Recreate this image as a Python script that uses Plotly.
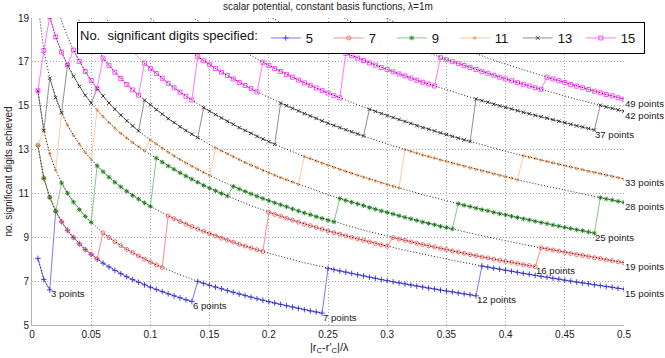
import plotly.graph_objects as go

STEP = 0.005  # sampling step of |rC-r'C|/lambda

# ---- achieved digits for each quadrature rule ----
# (first x, last x, values every 0.005)
n3 = (0.005, 0.015, [8.04, 7.08, 6.60])
n6 = (0.005, 0.135, [13.19, 11.69, 10.82, 10.19, 9.71, 9.32, 8.99, 8.70, 8.44, 8.22, 8.01, 7.82, 7.65, 7.49,
                     7.34, 7.20, 7.07, 6.95, 6.83, 6.72, 6.62, 6.52, 6.42, 6.33, 6.24, 6.15, 6.07])
n7 = (0.005, 0.245, [15.68, 13.87, 12.81, 12.06, 11.48, 11.01, 10.61, 10.26, 9.95, 9.68, 9.43, 9.20, 8.99, 8.80,
                     8.62, 8.45, 8.30, 8.15, 8.00, 7.87, 7.74, 7.62, 7.50, 7.40, 7.29, 7.19, 7.09, 6.99, 6.90,
                     6.81, 6.73, 6.65, 6.57, 6.49, 6.41, 6.34, 6.27, 6.20, 6.13, 6.06, 6.00, 5.94, 5.88, 5.82,
                     5.76, 5.70, 5.64, 5.59, 5.54])
n12 = (0.005, 0.375, [19.65, 17.51, 16.26, 15.37, 14.68, 14.12, 13.65, 13.24, 12.87, 12.55, 12.26, 11.99, 11.74,
                      11.51, 11.30, 11.10, 10.91, 10.74, 10.57, 10.41, 10.26, 10.12, 9.98, 9.85, 9.72, 9.60, 9.49,
                      9.37, 9.27, 9.16, 9.06, 8.96, 8.87, 8.78, 8.68, 8.60, 8.51, 8.43, 8.35, 8.27, 8.20, 8.12,
                      8.05, 7.98, 7.91, 7.84, 7.78, 7.71, 7.65, 7.58, 7.52, 7.46, 7.41, 7.35, 7.29, 7.24, 7.18,
                      7.13, 7.07, 7.02, 6.97, 6.92, 6.87, 6.82, 6.77, 6.73, 6.68, 6.64, 6.59, 6.55, 6.51, 6.46,
                      6.42, 6.38, 6.33])
n15 = (0.010, 0.500, [20.34, 19.06, 18.14, 17.44, 16.86, 16.34, 15.88, 15.48, 15.12, 14.80, 14.50, 14.23, 13.98,
                      13.74, 13.52, 13.32, 13.13, 12.94, 12.77, 12.61, 12.43, 12.25, 12.10, 11.94, 11.79, 11.65,
                      11.51, 11.37, 11.24, 11.12, 11.00, 10.88, 10.77, 10.65, 10.55, 10.44, 10.34, 10.24, 10.14,
                      10.04, 9.96, 9.87, 9.78, 9.69, 9.60, 9.53, 9.45, 9.37, 9.29, 9.21, 9.14, 9.07, 9.00, 8.93,
                      8.86, 8.79, 8.72, 8.65, 8.59, 8.53, 8.47, 8.41, 8.35, 8.28, 8.22, 8.17, 8.12, 8.06, 8.00,
                      7.95, 7.90, 7.84, 7.79, 7.74, 7.69, 7.64, 7.59, 7.54, 7.49, 7.45, 7.40, 7.35, 7.31, 7.26,
                      7.22, 7.18, 7.13, 7.09, 7.04, 7.00, 6.96, 6.92, 6.88, 6.83, 6.80, 6.75, 6.72, 6.67, 6.64])
n16 = (0.015, 0.425, [20.86, 19.73, 18.86, 18.15, 17.54, 17.02, 16.56, 16.15, 15.78, 15.44, 15.12, 14.84, 14.57,
                      14.31, 14.08, 13.85, 13.64, 13.44, 13.25, 13.06, 12.88, 12.71, 12.55, 12.39, 12.24, 12.10,
                      11.96, 11.82, 11.69, 11.56, 11.44, 11.32, 11.20, 11.09, 10.98, 10.87, 10.77, 10.67, 10.57,
                      10.48, 10.39, 10.29, 10.20, 10.11, 10.03, 9.94, 9.86, 9.78, 9.70, 9.62, 9.55, 9.48, 9.40,
                      9.33, 9.25, 9.19, 9.12, 9.05, 8.99, 8.92, 8.86, 8.79, 8.73, 8.67, 8.61, 8.56, 8.49, 8.44,
                      8.38, 8.33, 8.27, 8.21, 8.16, 8.10, 8.06, 8.00, 7.95, 7.90, 7.86, 7.80, 7.75, 7.71, 7.66])
n19 = (0.025, 0.500, [20.82, 20.06, 19.42, 18.86, 18.37, 17.93, 17.54, 17.17, 16.84, 16.53, 16.24, 15.97, 15.72,
                      15.48, 15.25, 15.04, 14.82, 14.62, 14.41, 14.23, 14.04, 13.87, 13.70, 13.54, 13.38, 13.23,
                      13.08, 12.94, 12.81, 12.67, 12.54, 12.41, 12.29, 12.17, 12.05, 11.94, 11.83, 11.72, 11.62,
                      11.52, 11.41, 11.31, 11.22, 11.13, 11.03, 10.94, 10.85, 10.77, 10.68, 10.60, 10.52, 10.44,
                      10.35, 10.28, 10.20, 10.13, 10.06, 9.98, 9.91, 9.84, 9.77, 9.69, 9.63, 9.57, 9.50, 9.44,
                      9.38, 9.31, 9.25, 9.19, 9.13, 9.07, 9.01, 8.95, 8.89, 8.84, 8.79, 8.73, 8.68, 8.62, 8.57,
                      8.52, 8.47, 8.42, 8.37, 8.31, 8.26, 8.21, 8.17, 8.12, 8.07, 8.03, 7.97, 7.93, 7.88, 7.84])
n25 = (0.045, 0.475, [20.55, 20.04, 19.59, 19.16, 18.78, 18.42, 18.09, 17.78, 17.49, 17.21, 16.94, 16.70, 16.47,
                      16.25, 16.02, 15.82, 15.62, 15.43, 15.26, 15.08, 14.91, 14.75, 14.59, 14.44, 14.29, 14.15,
                      14.00, 13.87, 13.74, 13.60, 13.48, 13.36, 13.24, 13.13, 13.02, 12.90, 12.79, 12.68, 12.58,
                      12.48, 12.38, 12.28, 12.18, 12.09, 12.01, 11.92, 11.83, 11.74, 11.65, 11.57, 11.48, 11.41,
                      11.33, 11.25, 11.17, 11.09, 11.02, 10.94, 10.87, 10.81, 10.73, 10.66, 10.60, 10.53, 10.46,
                      10.40, 10.33, 10.26, 10.21, 10.14, 10.07, 10.02, 9.96, 9.90, 9.84, 9.79, 9.73, 9.67, 9.62,
                      9.56, 9.51, 9.45, 9.40, 9.34, 9.30, 9.24, 9.19])
n28 = (0.075, 0.500, [20.48, 20.14, 19.83, 19.53, 19.24, 18.98, 18.73, 18.49, 18.25, 18.03, 17.82, 17.61, 17.42,
                      17.23, 17.05, 16.87, 16.70, 16.53, 16.38, 16.22, 16.06, 15.92, 15.78, 15.63, 15.50, 15.37,
                      15.24, 15.12, 15.00, 14.88, 14.76, 14.64, 14.53, 14.42, 14.31, 14.20, 14.10, 14.00, 13.90,
                      13.81, 13.71, 13.62, 13.52, 13.44, 13.34, 13.26, 13.17, 13.09, 13.00, 12.92, 12.84, 12.75,
                      12.68, 12.61, 12.52, 12.45, 12.38, 12.31, 12.24, 12.16, 12.09, 12.02, 11.96, 11.89, 11.82,
                      11.76, 11.70, 11.62, 11.56, 11.50, 11.44, 11.38, 11.32, 11.26, 11.20, 11.14, 11.08, 11.02,
                      10.98, 10.92, 10.86, 10.81, 10.75, 10.70, 10.64, 10.59])
n33 = (0.105, 0.500, [20.48, 20.22, 19.96, 19.72, 19.49, 19.27, 19.06, 18.85, 18.66, 18.46, 18.28, 18.10, 17.93,
                      17.76, 17.59, 17.44, 17.28, 17.12, 16.98, 16.84, 16.69, 16.56, 16.43, 16.30, 16.17, 16.04,
                      15.93, 15.81, 15.69, 15.58, 15.46, 15.36, 15.25, 15.15, 15.04, 14.94, 14.84, 14.74, 14.64,
                      14.55, 14.46, 14.37, 14.28, 14.19, 14.09, 14.00, 13.93, 13.85, 13.76, 13.68, 13.60, 13.52,
                      13.44, 13.37, 13.29, 13.21, 13.15, 13.07, 12.99, 12.92, 12.86, 12.78, 12.72, 12.65, 12.59,
                      12.52, 12.46, 12.39, 12.33, 12.26, 12.20, 12.13, 12.08, 12.01, 11.95, 11.90, 11.83, 11.78,
                      11.72, 11.66])
n37 = (0.160, 0.475, [20.42, 20.24, 20.06, 19.88, 19.71, 19.55, 19.38, 19.23, 19.08, 18.92, 18.79, 18.65, 18.51,
                      18.37, 18.23, 18.11, 17.99, 17.86, 17.74, 17.61, 17.50, 17.39, 17.28, 17.17, 17.06, 16.95,
                      16.85, 16.74, 16.65, 16.55, 16.45, 16.36, 16.26, 16.16, 16.07, 15.99, 15.90, 15.81, 15.72,
                      15.64, 15.56, 15.47, 15.39, 15.31, 15.23, 15.16, 15.07, 14.99, 14.92, 14.85, 14.77, 14.70,
                      14.63, 14.56, 14.50, 14.43, 14.36, 14.29, 14.22, 14.15, 14.08, 14.03, 13.96, 13.89])
n42 = (0.210, 0.500, [20.48, 20.32, 20.17, 20.02, 19.87, 19.73, 19.59, 19.46, 19.32, 19.18, 19.06, 18.94, 18.82,
                      18.70, 18.58, 18.45, 18.35, 18.23, 18.12, 18.01, 17.91, 17.80, 17.69, 17.59, 17.48, 17.39,
                      17.30, 17.19, 17.10, 17.01, 16.92, 16.83, 16.74, 16.65, 16.55, 16.48, 16.39, 16.30, 16.22,
                      16.14, 16.05, 15.98, 15.90, 15.82, 15.75, 15.67, 15.60, 15.52, 15.44, 15.37, 15.29, 15.23,
                      15.16, 15.08, 15.02, 14.94, 14.88, 14.81, 14.75])
n49 = (0.245, 0.500, [20.41, 20.26, 20.11, 19.98, 19.85, 19.72, 19.59, 19.45, 19.32, 19.21, 19.08, 18.96, 18.84,
                      18.73, 18.61, 18.50, 18.38, 18.27, 18.17, 18.07, 17.95, 17.85, 17.76, 17.66, 17.56, 17.46,
                      17.36, 17.26, 17.18, 17.08, 16.98, 16.90, 16.81, 16.72, 16.63, 16.55, 16.47, 16.39, 16.30,
                      16.22, 16.14, 16.06, 15.97, 15.89, 15.82, 15.74, 15.66, 15.59, 15.51, 15.45, 15.36, 15.30])

curves = {3: n3, 6: n6, 7: n7, 12: n12, 15: n15, 16: n16, 19: n19, 25: n25, 28: n28,
          33: n33, 37: n37, 42: n42, 49: n49}

# ---- quadrature rule used by each "digits specified" series: (points, from x, to x) ----
rules_5 = [(3, 0.005, 0.015), (6, 0.020, 0.135), (7, 0.140, 0.245), (12, 0.250, 0.375), (15, 0.380, 0.500)]
rules_7 = [(6, 0.005, 0.055), (7, 0.060, 0.110), (12, 0.115, 0.195), (15, 0.200, 0.300), (16, 0.305, 0.425),
           (19, 0.430, 0.500)]
rules_9 = [(6, 0.005, 0.020), (7, 0.025, 0.050), (12, 0.055, 0.100), (15, 0.105, 0.165), (16, 0.170, 0.255),
           (19, 0.260, 0.355), (25, 0.360, 0.475), (28, 0.480, 0.500)]
rules_11 = [(6, 0.005, 0.005), (7, 0.010, 0.020), (12, 0.025, 0.050), (15, 0.055, 0.095), (16, 0.100, 0.150),
            (19, 0.155, 0.225), (25, 0.230, 0.310), (28, 0.315, 0.410), (33, 0.415, 0.500)]
rules_13 = [(7, 0.005, 0.010), (12, 0.015, 0.025), (15, 0.030, 0.050), (16, 0.055, 0.090), (19, 0.095, 0.140),
            (25, 0.145, 0.205), (28, 0.210, 0.280), (33, 0.285, 0.370), (37, 0.375, 0.475), (42, 0.480, 0.500)]
rules_15 = [(7, 0.005, 0.005), (12, 0.010, 0.010), (15, 0.015, 0.030), (16, 0.035, 0.055), (19, 0.060, 0.090),
            (25, 0.095, 0.135), (28, 0.140, 0.190), (33, 0.195, 0.260), (37, 0.265, 0.340), (42, 0.345, 0.430),
            (49, 0.435, 0.500)]

digits_specified = ["5", "7", "9", "11", "13", "15"]
series_rules = [rules_5, rules_7, rules_9, rules_11, rules_13, rules_15]
line_colors = ["#7878ff", "#ff8a8a", "#84c884", "#ffc9a0", "#8f8f8f", "#ff78ff"]
marker_colors = ["#4646ff", "#ff6a6a", "#2f912f", "#f4ab72", "#3a3a3a", "#ff4cff"]
marker_symbols = ["cross-thin-open", "circle-open", "asterisk-open", "circle", "x-thin-open", "square-open"]
marker_sizes = [4, 4, 4, 2.5, 3.5, 4]

title_text = "scalar potential, constant basis functions, \u03bb=1m"
xlabel_text = "|r<sub>C</sub>-r'<sub>C</sub>|/\u03bb"
ylabel_text = "no. significant digits achieved"
legend_title = "No.\u00a0 significant digits specified:"
x_ticks = [0, 0.05, 0.1, 0.15, 0.2, 0.25, 0.3, 0.35, 0.4, 0.45, 0.5]
x_ticktext = ["0", "0.05", "0.1", "0.15", "0.2", "0.25", "0.3", "0.35", "0.4", "0.45", "0.5"]
y_ticks = [5, 7, 9, 11, 13, 15, 17, 19]


def idx(v):
    return int(round(v / STEP))


def curve_xy(n):
    x0, x1, vals = curves[n]
    i0 = idx(x0)
    if idx(x1) - i0 + 1 != len(vals):
        raise ValueError(f"curve {n}: length mismatch {len(vals)} vs {idx(x1) - i0 + 1}")
    xs = [round((i0 + k) * STEP, 3) for k in range(len(vals))]
    return xs, vals


def value_at(n, i):
    x0, x1, vals = curves[n]
    return vals[i - idx(x0)]


fig = go.Figure()

for name, rules, lc, mc, ms, sz in zip(digits_specified, series_rules, line_colors, marker_colors,
                                       marker_symbols, marker_sizes):
    xs, ys = [], []
    for n, a, b in rules:
        for i in range(idx(a), idx(b) + 1):
            xs.append(round(i * STEP, 3))
            ys.append(value_at(n, i))
    fig.add_trace(go.Scatter(
        x=xs, y=ys, mode="lines+markers", name=name,
        line=dict(color=lc, width=1),
        marker=dict(symbol=ms, size=sz, color=mc, line=dict(color=mc, width=1)),
    ))

# dotted reference curves for each rule + end labels
annotations = []
for n in curves:
    xs, ys = curve_xy(n)
    fig.add_trace(go.Scatter(x=xs, y=ys, mode="lines", showlegend=False, hoverinfo="skip",
                             line=dict(color="#1e1e1e", width=1, dash="1px,2px")))
    annotations.append(dict(x=xs[-1], y=ys[-1], xref="x", yref="y", text=f"{n} points",
                            showarrow=False, xanchor="left", yanchor="middle", xshift=-1, yshift=-4,
                            font=dict(size=9.6, color="#1a1a1a")))

annotations.append(dict(x=0.5, y=1.036, xref="paper", yref="paper", text=title_text, showarrow=False,
                        xanchor="center", yanchor="middle", font=dict(size=10, color="#222")))
annotations.append(dict(x=0.502, y=-0.075, xref="paper", yref="paper", text=xlabel_text, showarrow=False,
                        xanchor="center", yanchor="middle", font=dict(size=11, color="#222")))
annotations.append(dict(x=-0.0405, y=0.5, xref="paper", yref="paper", text=ylabel_text, showarrow=False,
                        textangle=-90, xanchor="center", yanchor="middle", font=dict(size=10, color="#222")))

axis_common = dict(showgrid=True, gridcolor="#a6a6a6", griddash="1px,2px", gridwidth=1, zeroline=False,
                   showline=True, linecolor="#b4b4b4", linewidth=1, ticks="",
                   tickfont=dict(size=10, color="#222"))

fig.update_layout(
    width=665, height=358,
    margin=dict(l=32, r=41, t=18, b=33),
    paper_bgcolor="white", plot_bgcolor="white",
    font=dict(family="Arial, Liberation Sans, sans-serif", color="#222"),
    xaxis=dict(range=[0, 0.5], tickvals=x_ticks, ticktext=x_ticktext, **axis_common),
    yaxis=dict(range=[5, 19], tickvals=y_ticks, **axis_common),
    showlegend=True,
    legend=dict(orientation="h", x=0.076, y=0.987, xanchor="left", yanchor="top",
                bgcolor="white", bordercolor="black", borderwidth=1,
                entrywidth=18, entrywidthmode="pixels",
                font=dict(size=13, color="#111"),
                title=dict(text=legend_title, side="left", font=dict(size=13, color="#111"))),
    annotations=annotations,
)

fig.write_html("out.html")
